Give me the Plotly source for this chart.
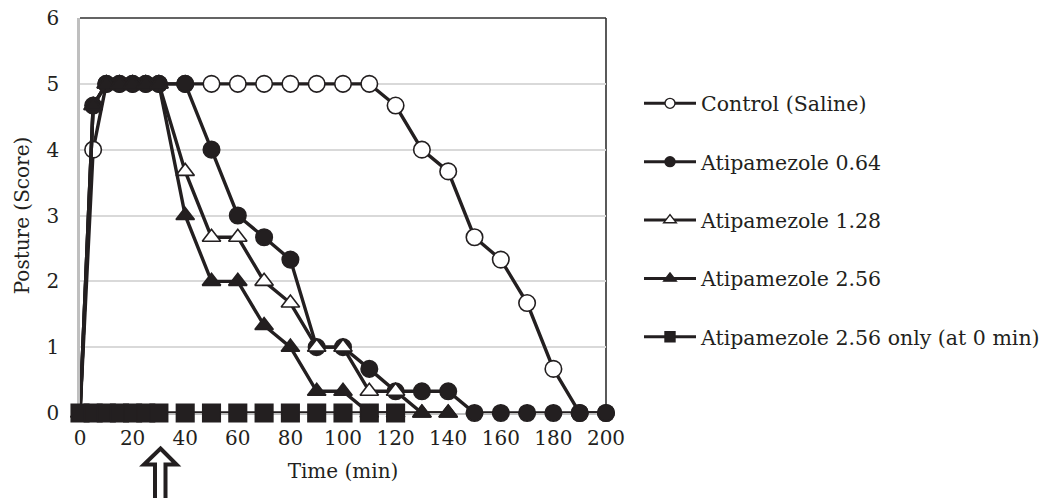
import plotly.graph_objects as go

# ---------------- data ----------------
time_all = [0, 5, 10, 15, 20, 25, 30, 40, 50, 60, 70, 80, 90, 100, 110, 120,
            130, 140, 150, 160, 170, 180, 190, 200]
control = [0, 4, 5, 5, 5, 5, 5, 5, 5, 5, 5, 5, 5, 5, 5, 4.67,
           4, 3.67, 2.67, 2.33, 1.67, 0.67, 0, 0]
atip_064 = [0, 4.67, 5, 5, 5, 5, 5, 5, 4, 3, 2.67, 2.33, 1, 1, 0.67, 0.33,
            0.33, 0.33, 0, 0, 0, 0, 0, 0]

time_to140 = [0, 5, 10, 15, 20, 25, 30, 40, 50, 60, 70, 80, 90, 100, 110, 120, 130, 140]
atip_128 = [0, 4.67, 5, 5, 5, 5, 5, 3.67, 2.67, 2.67, 2, 1.67, 1, 1, 0.33, 0.33, 0, 0]
atip_256 = [0, 4.67, 5, 5, 5, 5, 5, 3, 2, 2, 1.33, 1, 0.33, 0.33, 0, 0, 0, 0]

time_to120 = [0, 5, 10, 15, 20, 25, 30, 40, 50, 60, 70, 80, 90, 100, 110, 120]
atip_256_only = [0, 0, 0, 0, 0, 0, 0, 0, 0, 0, 0, 0, 0, 0, 0, 0]

series_names = ["Control (Saline)", "Atipamezole 0.64", "Atipamezole 1.28",
                "Atipamezole 2.56", "Atipamezole 2.56 only (at 0 min)"]
x_ticks = [0, 20, 40, 60, 80, 100, 120, 140, 160, 180, 200]
y_ticks = [0, 1, 2, 3, 4, 5, 6]

# ---------------- layout geometry (page pixels) ----------------
W, H = 1045, 498
L, R, T, B = 80, 606, 18, 413  # plot area in page pixels
arrow_px = 160.5               # horizontal centre of the injection arrow

INK = "#231f20"
FONT = "DejaVu Serif"

series = [
    (time_all, control, "circle-open", 16.5),
    (time_all, atip_064, "circle", 16.5),
    (time_to140, atip_128, "triangle-up-open", 16),
    (time_to140, atip_256, "triangle-up", 16),
    (time_to120, atip_256_only, "square", 17.5),
]

fig = go.Figure()
for (xs, ys, sym, size), name in zip(series, series_names):
    is_open = sym.endswith("open")
    fig.add_trace(go.Scatter(
        x=xs, y=ys, mode="lines+markers", name=name, showlegend=False,
        cliponaxis=False, hoverinfo="skip",
        line=dict(color=INK, width=3.4),
        marker=dict(symbol=sym.replace("-open", ""), size=size,
                    color="white" if is_open else INK,
                    line=dict(color=INK, width=1.6)),
    ))

# legend-only entries (smaller markers as in the reference)
legend_sizes = [10, 10, 11, 11, 10]
for i, ((xs, ys, sym, size), name) in enumerate(zip(series, series_names)):
    is_open = sym.endswith("open")
    fig.add_trace(go.Scatter(
        x=[None], y=[None], mode="lines+markers", name=name,
        legendgroup=f"g{i}",
        line=dict(color=INK, width=3),
        marker=dict(symbol=sym.replace("-open", ""), size=legend_sizes[i],
                    color="white" if is_open else INK,
                    line=dict(color=INK, width=1.4)),
    ))


def px(xp):
    return (xp - L) / (R - L)


def py(yp):
    return (B - yp) / (B - T)


# top and right frame lines
fig.add_shape(type="line", xref="paper", yref="paper", x0=0, x1=1, y0=1, y1=1,
              line=dict(color="#303030", width=1.6), layer="below")
fig.add_shape(type="line", xref="paper", yref="paper", x0=1, x1=1, y0=0, y1=1,
              line=dict(color="#303030", width=1.6), layer="below")

# hollow double-shaft arrow below the x axis
cx = arrow_px
pts = [(cx, 448.5), (cx + 16, 464.5), (cx + 5, 464.5), (cx + 5, 510),
       (cx - 5.5, 510), (cx - 5.5, 464.5), (cx - 16.5, 464.5)]
path = "M " + " L ".join(f"{px(a):.5f},{py(b):.5f}" for a, b in pts) + " Z"
fig.add_shape(type="path", xref="paper", yref="paper", path=path,
              fillcolor="white", line=dict(color=INK, width=4), layer="above")

fig.update_layout(
    width=W, height=H,
    margin=dict(l=L, r=W - R, t=T, b=H - B, autoexpand=False),
    paper_bgcolor="white", plot_bgcolor="white",
    font=dict(family=FONT, size=20, color=INK),
    hovermode=False,
    xaxis=dict(range=[0, 200], tickvals=x_ticks, showgrid=False, zeroline=False,
               showline=True, linecolor="#bfbfbf", linewidth=2,
               ticks="", ticklabelstandoff=6, layer="below traces",
               ticklabeloverflow="allow",
               title=dict(text="Time (min)", standoff=15, font=dict(size=20))),
    yaxis=dict(range=[0, 6], tickvals=y_ticks, showgrid=True,
               gridcolor="#d9d9d9", gridwidth=1.5, zeroline=False,
               showline=True, linecolor="#bfbfbf", linewidth=2.5,
               ticks="", ticklabelstandoff=14, layer="below traces",
               ticklabeloverflow="allow",
               title=dict(text="Posture (Score)", standoff=12, font=dict(size=20))),
    legend=dict(x=px(639), y=py(83.5), xanchor="left", yanchor="top",
                bgcolor="rgba(0,0,0,0)", itemwidth=52, tracegroupgap=28.7,
                traceorder="grouped", font=dict(family=FONT, size=20.5, color=INK)),
)

# remove the page's default 8px body margin so the chart fills the window
fig.write_html("out.html", config={"displayModeBar": False},
               post_script="document.body.style.margin='0';")
